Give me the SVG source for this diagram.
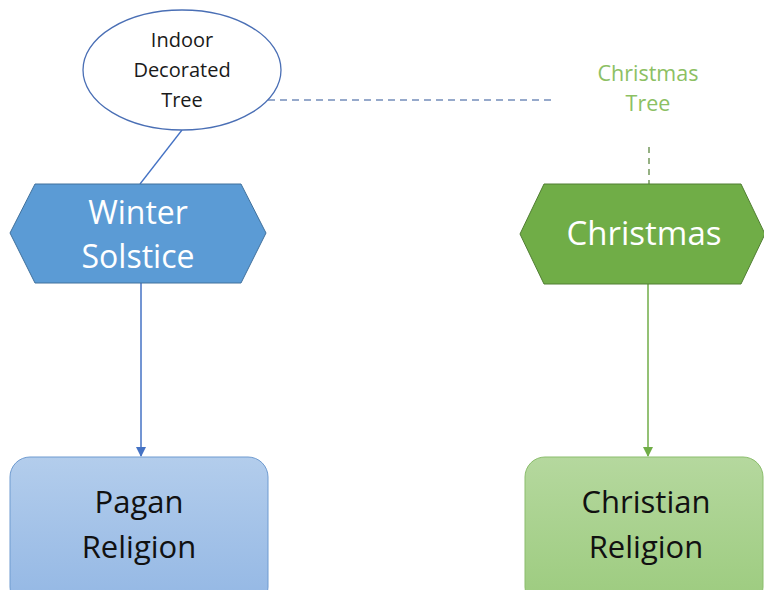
<svg xmlns="http://www.w3.org/2000/svg" width="764" height="590" viewBox="0 0 764 590">
<defs>
<linearGradient id="gBlue" x1="0" y1="0" x2="0" y2="1"><stop offset="0" stop-color="#b3cdec"/><stop offset="1" stop-color="#93b7e4"/></linearGradient>
<linearGradient id="gGreen" x1="0" y1="0" x2="0" y2="1"><stop offset="0" stop-color="#b5d89e"/><stop offset="1" stop-color="#9ccb7e"/></linearGradient>
<marker id="arrB" markerWidth="10" markerHeight="10" refX="9" refY="5" orient="auto" markerUnits="userSpaceOnUse"><path d="M0,0 L10,5 L0,10 Z" fill="#4472c4"/></marker>
<marker id="arrG" markerWidth="10" markerHeight="10" refX="9" refY="5" orient="auto" markerUnits="userSpaceOnUse"><path d="M0,0 L10,5 L0,10 Z" fill="#70ad47"/></marker>
</defs>
<style>
text{font-family:"Open Sans","Liberation Sans",sans-serif;text-anchor:middle}
.t18{font-size:20px;fill:#1a1a1a}
.ct{font-size:21.5px;fill:#8cc063}
.hx{font-size:32px;fill:#ffffff}
.bx{font-size:31px;fill:#111111}
</style>
<rect width="764" height="590" fill="#ffffff"/>
<g id="connectors" fill="none">
<line x1="182" y1="130" x2="140" y2="184" stroke="#4472c4" stroke-width="1.3"/>
<line x1="268" y1="100" x2="552" y2="100" stroke="#2f5597" stroke-width="1.2" stroke-dasharray="7,5"/>
<line x1="649" y1="147" x2="649" y2="184" stroke="#507e32" stroke-width="1.2" stroke-dasharray="6,5"/>
<line x1="141" y1="283" x2="141" y2="456" stroke="#4472c4" stroke-width="1.5" marker-end="url(#arrB)"/>
<line x1="648" y1="284" x2="648" y2="456" stroke="#70ad47" stroke-width="1.5" marker-end="url(#arrG)"/>
</g>
<g id="indoor-tree">
<ellipse cx="182" cy="70" rx="99" ry="60" fill="#ffffff" stroke="#4a6fb5" stroke-width="1.3"/>
<text class="t18" x="182" y="47">Indoor</text>
<text class="t18" x="182" y="77">Decorated</text>
<text class="t18" x="182" y="107">Tree</text>
</g>
<g id="christmas-tree">
<text class="ct" x="648" y="81">Christmas</text>
<text class="ct" x="648" y="111">Tree</text>
</g>
<g id="winter-solstice">
<polygon points="10,233 35,184 241,184 266,233 241,283 35,283" fill="#5b9bd5" stroke="#41719c" stroke-width="1"/>
<text class="hx" x="138" y="224">Winter</text>
<text class="hx" x="138" y="268">Solstice</text>
</g>
<g id="christmas">
<polygon points="520,234 544,184 741,184 765,234 741,284 544,284" fill="#70ad47" stroke="#507e32" stroke-width="1"/>
<text class="hx" x="644" y="245" style="font-size:33px">Christmas</text>
</g>
<g id="pagan-religion">
<rect x="10" y="457" width="258" height="150" rx="20" ry="20" fill="url(#gBlue)" stroke="#6f9bd0" stroke-width="1"/>
<text class="bx" x="139" y="513">Pagan</text>
<text class="bx" x="139" y="558">Religion</text>
</g>
<g id="christian-religion">
<rect x="525" y="457" width="238" height="150" rx="20" ry="20" fill="url(#gGreen)" stroke="#8bbd6c" stroke-width="1"/>
<text class="bx" x="646" y="513">Christian</text>
<text class="bx" x="646" y="558">Religion</text>
</g>
</svg>
